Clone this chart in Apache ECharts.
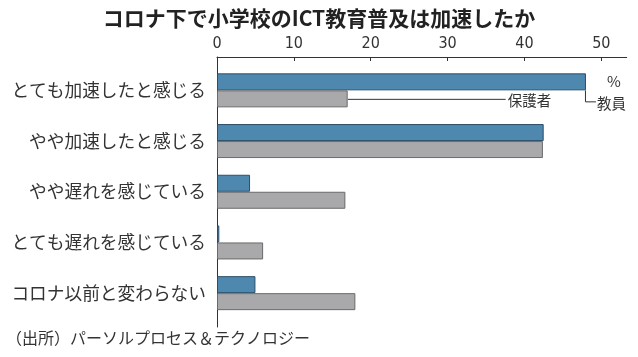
<!DOCTYPE html>
<html>
<head>
<meta charset="utf-8">
<script src="https://cdn.jsdelivr.net/npm/echarts@6.0.0/dist/echarts.min.js"></script>
<style>
html,body{margin:0;padding:0;background:#fff;}
#c{width:638px;height:357px;}
</style>
</head>
<body>
<div id="c"></div>
<script>
const title = 'コロナ下で小学校のICT教育普及は加速したか';
const source = '（出所）パーソルプロセス＆テクノロジー';
const categories = ['とても加速したと感じる','やや加速したと感じる','やや遅れを感じている','とても遅れを感じている','コロナ以前と変わらない'];
const seriesNames = ['教員','保護者'];
const teachers = [48.0, 42.5, 4.3, 0.3, 5.0];
const parents = [17.0, 42.4, 16.7, 6.0, 18.0];
const xTicks = [0, 10, 20, 30, 40, 50];
const unitLabel = '%';

const jp = '"Noto Sans CJK JP", "Noto Sans", sans-serif';
const num = '"Liberation Sans Narrow", "DejaVu Sans Condensed", "Roboto Condensed", sans-serif';
const textColor = '#333';

const chart = echarts.init(document.getElementById('c'), null, {renderer: 'canvas'});
const option = {
  animation: false,
  backgroundColor: '#fff',
  title: {
    text: title,
    left: 'center',
    top: 3,
    textStyle: {fontFamily: jp, fontSize: 21, fontWeight: 'bold', color: '#222'}
  },
  grid: [
    {left: 217, right: 11.3, top: 65, height: 253.5, containLabel: false},
    {left: 217, width: 10, top: 57, height: 270, containLabel: false}
  ],
  xAxis: [{
    type: 'value',
    position: 'top',
    offset: 8,
    min: 0,
    max: 53.3,
    axisLine: {show: true, lineStyle: {color: '#333', width: 1}},
    axisTick: {show: true, inside: true, length: 4, customValues: xTicks, lineStyle: {color: '#333'}},
    axisLabel: {customValues: xTicks, margin: 5, fontFamily: num, fontSize: 16, color: textColor},
    splitLine: {show: false}
  }, {
    gridIndex: 1, type: 'value', show: false
  }],
  yAxis: [{
    type: 'category',
    data: categories,
    inverse: true,
    axisLine: {show: false},
    axisTick: {show: false},
    axisLabel: {margin: 11, fontFamily: jp, fontSize: 17.7, color: textColor}
  }, {
    gridIndex: 1,
    type: 'value',
    axisLine: {show: true, lineStyle: {color: '#333', width: 1}},
    axisTick: {show: false},
    axisLabel: {show: false},
    splitLine: {show: false}
  }],
  series: [{
    name: seriesNames[0],
    type: 'bar',
    data: teachers,
    barWidth: 17,
    barGap: '0%',
    itemStyle: {color: '#4f88ae', borderColor: '#2b4f68', borderWidth: 1}
  }, {
    name: seriesNames[1],
    type: 'bar',
    data: parents,
    barWidth: 17,
    barGap: '0%',
    itemStyle: {color: '#a9a9ac', borderColor: '#6a6a6a', borderWidth: 1}
  }]
};
chart.setOption(option);

// annotations from the library's own layout
function layoutOf(si, idx) {
  const data = chart.getModel().getSeriesByIndex(si).getData();
  return data.getItemLayout(idx);
}
const lt = layoutOf(0, 0);
const lp = layoutOf(1, 0);
const tEndX = lt.x + lt.width;
const tBottom = lt.y + lt.height;
const pEndX = lp.x + lp.width;
const pMidY = lp.y + lp.height / 2;

const graphics = [
  {type: 'polyline', shape: {points: [[pEndX, pMidY + 0.5], [pEndX + 158, pMidY + 0.5]]}, style: {stroke: '#333', lineWidth: 1, fill: null}},
  {type: 'text', x: pEndX + 160, y: pMidY + 2, style: {text: seriesNames[1], font: '14.5px ' + jp, fill: textColor, verticalAlign: 'middle', align: 'left'}},
  {type: 'polyline', shape: {points: [[tEndX - 0.5, tBottom], [tEndX - 0.5, tBottom + 11.5], [tEndX + 10, tBottom + 11.5]]}, style: {stroke: '#333', lineWidth: 1, fill: null}},
  {type: 'text', x: tEndX + 11, y: tBottom + 13, style: {text: seriesNames[0], font: '14.5px ' + jp, fill: textColor, verticalAlign: 'middle', align: 'left'}},
  {type: 'text', x: tEndX + 21, y: lt.y + 8, style: {text: unitLabel, font: '15px ' + jp, fill: textColor, verticalAlign: 'middle', align: 'left'}},
  {type: 'text', x: 6, y: 338, style: {text: source, font: '16px ' + jp, fill: textColor, verticalAlign: 'middle', align: 'left'}}
];
chart.setOption({graphic: graphics});
</script>
</body>
</html>
